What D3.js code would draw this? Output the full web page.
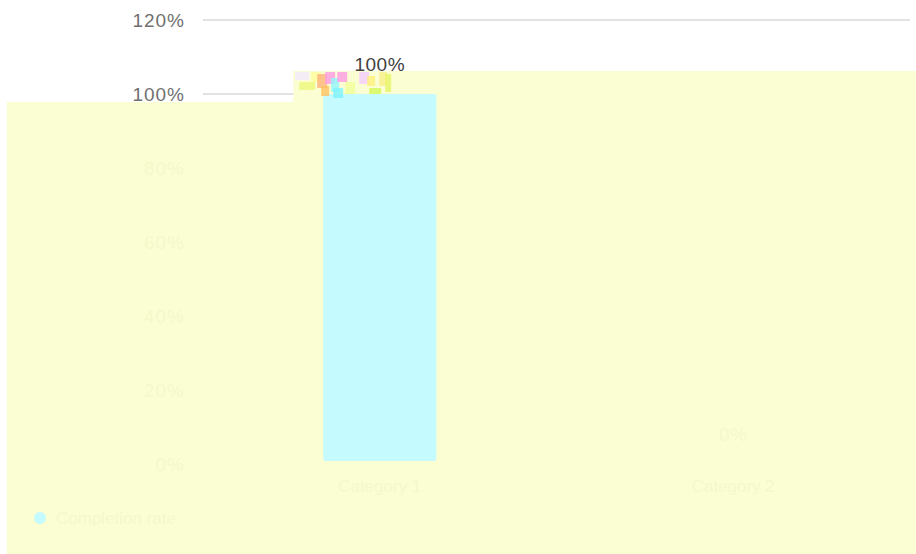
<!DOCTYPE html>
<html>
<head>
<meta charset="utf-8">
<script src="https://cdn.jsdelivr.net/npm/d3@7"></script>
<style>
  body { margin: 0; background: #fff; }
  svg { display: block; }
</style>
</head>
<body>
<div id="chart"></div>
<script>
// chart values
const categories = ["Category 1", "Category 2"];
const values = [1.0, 0.0];
const seriesName = "Completion rate";
const yTicks = [0, 0.2, 0.4, 0.6, 0.8, 1.0, 1.2];

const width = 916, height = 554;
const font = "'Liberation Sans', Arial, sans-serif";

const svg = d3.select("#chart").append("svg")
  .attr("width", width)
  .attr("height", height)
  .style("background", "#ffffff");

const x = d3.scaleBand()
  .domain(categories)
  .range([203, 910])
  .paddingInner(0.68)
  .paddingOuter(0.34);

const y = d3.scaleLinear()
  .domain([0, 1.2])
  .range([464, 20]);

const pct = d3.format(".0%");

// gridlines
svg.append("g")
  .selectAll("line")
  .data(yTicks)
  .join("line")
  .attr("x1", 203)
  .attr("x2", 910)
  .attr("y1", (d) => y(d))
  .attr("y2", (d) => y(d))
  .attr("stroke", "#d9d9d9")
  .attr("stroke-width", 1.5);

// y labels
svg.append("g")
  .selectAll("text")
  .data(yTicks)
  .join("text")
  .attr("x", 185)
  .attr("y", (d) => y(d) + 7)
  .attr("text-anchor", "end")
  .attr("font-family", font)
  .attr("font-size", 19)
  .attr("letter-spacing", 1)
  .attr("fill", "#707070")
  .text((d) => pct(d));

// the washed-out yellow layer over the lower part of the picture
const wash = "#fbfed3";
const top1 = y(1) - 23;
const p = d3.path();
p.moveTo(7, y(1) + 8);
p.lineTo(x(categories[0]) - 30, y(1) + 8);
p.lineTo(x(categories[0]) - 30, top1);
p.lineTo(width, top1);
p.lineTo(width, height);
p.lineTo(7, height);
p.closePath();
svg.append("path")
  .attr("d", p.toString())
  .attr("fill", wash);

// faint remains of labels under the wash
const ghost = "#f4f8ca";
svg.append("g")
  .selectAll("text")
  .data(yTicks.filter((d) => d < 1))
  .join("text")
  .attr("x", 185)
  .attr("y", (d) => y(d) + 7)
  .attr("text-anchor", "end")
  .attr("font-family", font)
  .attr("font-size", 19)
  .attr("letter-spacing", 1)
  .attr("fill", ghost)
  .text((d) => pct(d));

svg.append("g")
  .selectAll("text")
  .data(categories)
  .join("text")
  .attr("x", (d) => x(d) + x.bandwidth() / 2)
  .attr("y", 492)
  .attr("text-anchor", "middle")
  .attr("font-family", font)
  .attr("font-size", 17)
  .attr("fill", ghost)
  .text((d) => d);

// bars
svg.append("g")
  .selectAll("rect")
  .data(values)
  .join("rect")
  .attr("x", (d, i) => x(categories[i]))
  .attr("y", (d) => y(d))
  .attr("width", x.bandwidth())
  .attr("height", (d) => Math.max(0, y(0) - y(d) - 3))
  .attr("rx", 2)
  .attr("fill", "#c5fbff");

// glitch speckles around the top of the first bar
const bx = x(categories[0]);
const speck = [
  [-28, -22, 14, 8, "#f3e9ff"], [-24, -12, 16, 8, "#eef87a"], [-12, -22, 10, 10, "#fffb9a"],
  [-6, -20, 10, 14, "#ffb37a"], [2, -22, 10, 12, "#ff9be6"], [8, -16, 8, 14, "#8ff7ff"],
  [14, -22, 10, 10, "#ff9be6"], [-2, -8, 8, 10, "#ffc060"], [10, -6, 10, 10, "#7ef2ff"],
  [22, -12, 10, 12, "#f0ff9a"], [36, -22, 10, 12, "#f5ccff"], [44, -18, 8, 10, "#fff07a"],
  [46, -6, 12, 6, "#d6f75a"], [56, -22, 8, 14, "#f8ef8a"], [62, -20, 6, 18, "#e7f466"]
];
svg.append("g")
  .selectAll("rect")
  .data(speck)
  .join("rect")
  .attr("x", (d) => bx + d[0])
  .attr("y", (d) => y(1) + d[1])
  .attr("width", (d) => d[2])
  .attr("height", (d) => d[3])
  .attr("fill", (d) => d[4])
  .attr("opacity", 0.8);

// data labels
svg.append("g")
  .selectAll("text")
  .data(values)
  .join("text")
  .attr("x", (d, i) => x(categories[i]) + x.bandwidth() / 2)
  .attr("y", (d) => y(d) - 23)
  .attr("text-anchor", "middle")
  .attr("font-family", font)
  .attr("font-size", 19)
  .attr("letter-spacing", 0.5)
  .attr("fill", (d) => (d > 0 ? "#404040" : ghost))
  .text((d) => pct(d));

// legend
const lg = svg.append("g").attr("transform", "translate(40,518)");
lg.append("circle").attr("r", 6).attr("fill", "#c5fbff");
lg.append("text")
  .attr("x", 16)
  .attr("y", 6)
  .attr("font-family", font)
  .attr("font-size", 17)
  .attr("fill", ghost)
  .text(seriesName);
</script>
</body>
</html>
